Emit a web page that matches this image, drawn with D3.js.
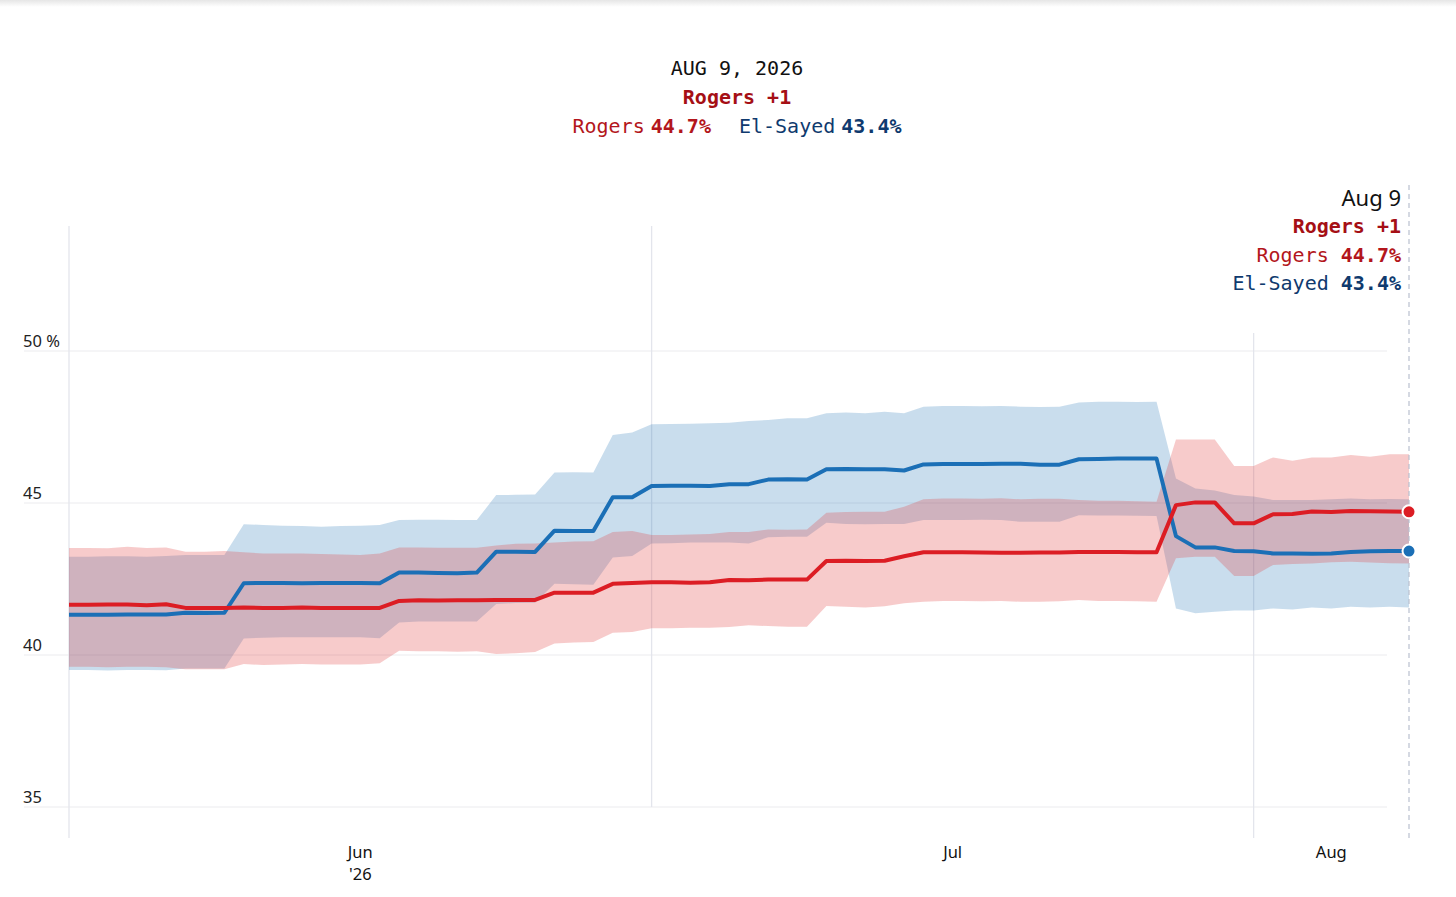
<!DOCTYPE html>
<html>
<head>
<meta charset="utf-8">
<script src="https://cdn.jsdelivr.net/npm/d3@7"></script>
<style>
  body { margin: 0; background: #fff; }
  svg { display: block; }
  .mono { font-family: "DejaVu Sans Mono", "Liberation Mono", monospace; }
  .sans { font-family: "Noto Sans", "Open Sans", sans-serif; }
</style>
</head>
<body>
<div id="chart"></div>
<script>
// daily values, Jun 1 .. Aug 9 2026
var startDate = new Date(2026, 5, 1);
var endDate = new Date(2026, 7, 9);

var rogers = [41.65,41.65,41.66,41.66,41.64,41.67,41.55,41.55,41.55,41.56,
  41.55,41.55,41.56,41.55,41.55,41.55,41.55,41.78,41.80,41.79,
  41.80,41.80,41.81,41.81,41.81,42.05,42.05,42.05,42.34,42.37,
  42.39,42.39,42.38,42.39,42.47,42.46,42.48,42.48,42.48,43.09,
  43.10,43.09,43.10,43.25,43.38,43.38,43.38,43.37,43.36,43.36,
  43.37,43.37,43.39,43.39,43.39,43.38,43.38,44.93,45.02,45.02,
  44.33,44.33,44.63,44.64,44.72,44.70,44.74,44.73,44.72,44.71];
var rogersHi = [43.52,43.52,43.51,43.56,43.52,43.54,43.40,43.40,43.42,43.38,
  43.34,43.34,43.34,43.32,43.31,43.29,43.34,43.54,43.54,43.53,
  43.53,43.53,43.60,43.66,43.67,43.70,43.73,43.74,44.05,44.08,
  43.95,43.95,43.96,43.98,44.05,44.05,44.13,44.12,44.13,44.68,
  44.70,44.71,44.71,44.88,45.12,45.15,45.15,45.14,45.16,45.12,
  45.14,45.14,45.10,45.07,45.07,45.06,45.04,47.09,47.09,47.09,
  46.22,46.22,46.50,46.39,46.50,46.50,46.58,46.52,46.60,46.60];
var rogersLo = [39.61,39.61,39.60,39.61,39.61,39.60,39.53,39.53,39.53,39.70,
  39.67,39.69,39.70,39.69,39.69,39.69,39.73,40.14,40.12,40.12,
  40.11,40.12,40.03,40.06,40.10,40.38,40.41,40.43,40.73,40.76,
  40.88,40.88,40.90,40.90,40.92,40.98,40.95,40.93,40.93,41.61,
  41.59,41.56,41.60,41.70,41.75,41.78,41.78,41.77,41.78,41.75,
  41.75,41.77,41.81,41.78,41.78,41.77,41.75,43.18,43.23,43.23,
  42.60,42.60,42.96,42.99,43.01,43.05,43.07,43.04,43.02,43.01];

var elSayed = [41.32,41.32,41.32,41.33,41.33,41.33,41.39,41.38,41.39,42.36,
  42.37,42.37,42.36,42.37,42.37,42.37,42.36,42.71,42.71,42.70,
  42.69,42.71,43.40,43.40,43.39,44.09,44.08,44.08,45.19,45.19,
  45.56,45.57,45.57,45.56,45.62,45.62,45.77,45.78,45.77,46.11,
  46.12,46.11,46.11,46.07,46.27,46.28,46.28,46.28,46.29,46.29,
  46.26,46.26,46.44,46.45,46.46,46.46,46.46,43.91,43.54,43.54,
  43.42,43.41,43.34,43.34,43.33,43.34,43.39,43.41,43.42,43.42];
var elSayedHi = [43.23,43.23,43.25,43.25,43.23,43.26,43.29,43.29,43.29,44.30,
  44.28,44.25,44.24,44.22,44.24,44.25,44.28,44.44,44.45,44.45,
  44.44,44.44,45.26,45.27,45.28,46.00,46.01,46.00,47.24,47.32,
  47.59,47.60,47.61,47.62,47.64,47.70,47.73,47.79,47.79,47.95,
  47.98,47.95,48.00,47.95,48.17,48.19,48.19,48.18,48.19,48.17,
  48.16,48.17,48.31,48.33,48.33,48.32,48.33,45.81,45.48,45.41,
  45.26,45.21,45.10,45.10,45.10,45.12,45.15,45.12,45.13,45.12];
var elSayedLo = [39.51,39.51,39.49,39.51,39.51,39.50,39.56,39.56,39.56,40.54,
  40.57,40.58,40.58,40.58,40.58,40.58,40.55,41.07,41.10,41.10,
  41.10,41.10,41.68,41.71,41.72,42.34,42.33,42.31,43.21,43.26,
  43.67,43.68,43.70,43.70,43.70,43.67,43.87,43.89,43.89,44.35,
  44.31,44.30,44.31,44.31,44.44,44.44,44.44,44.45,44.44,44.38,
  44.38,44.38,44.60,44.59,44.59,44.58,44.57,41.53,41.37,41.42,
  41.46,41.46,41.53,41.50,41.56,41.53,41.59,41.56,41.59,41.56];

var yTicks = [35, 40, 45, 50];
var monthStarts = [new Date(2026, 5, 1), new Date(2026, 6, 1), new Date(2026, 7, 1)];

// **************************************************
var width = 1456, height = 897;
var plotTop = 226, plotBottom = 838;

var days = rogers.map(function(v, i) { return d3.timeDay.offset(startDate, i); });
var rows = days.map(function(d, i) {
  return { date: d, r: rogers[i], rHi: rogersHi[i], rLo: rogersLo[i],
           e: elSayed[i], eHi: elSayedHi[i], eLo: elSayedLo[i] };
});

var x = d3.scaleTime().domain([startDate, endDate]).range([69, 1409]);
var y = d3.scaleLinear().domain([35, 50]).range([807, 351]);

var svg = d3.select("#chart").append("svg")
  .attr("width", width)
  .attr("height", height);

// faint shadow along the top edge
var grad = svg.append("defs").append("linearGradient")
  .attr("id", "topShade").attr("x1", 0).attr("x2", 0).attr("y1", 0).attr("y2", 1);
grad.append("stop").attr("offset", "0%").attr("stop-color", "#e6e6e6");
grad.append("stop").attr("offset", "100%").attr("stop-color", "#fff");
svg.append("rect").attr("width", width).attr("height", 7).attr("fill", "url(#topShade)");

// horizontal grid + labels
svg.selectAll(".grid").data(yTicks).enter().append("line")
  .attr("x1", 24).attr("x2", 1387)
  .attr("y1", function(d) { return y(d); })
  .attr("y2", function(d) { return y(d); })
  .attr("stroke", "#ebebee").attr("stroke-width", 1);

svg.selectAll(".ylab").data(yTicks).enter().append("text")
  .attr("class", "sans")
  .attr("x", 23)
  .attr("y", function(d) { return y(d) - 4; })
  .attr("font-size", 16.5)
  .attr("fill", "#222")
  .text(function(d) { return d === 50 ? "50 %" : d; });

// month boundaries
svg.selectAll(".month").data(monthStarts).enter().append("line")
  .attr("x1", function(d) { return x(d); })
  .attr("x2", function(d) { return x(d); })
  .attr("y1", plotTop)
  .attr("y2", function(d, i) { return i === 1 ? y(35) : plotBottom; })
  .attr("stroke", "#e3e5ec").attr("stroke-width", 1.3);

// month labels centred in each month's visible span
monthStarts.forEach(function(m, i) {
  var next = i < monthStarts.length - 1 ? monthStarts[i + 1] : endDate;
  var cx = (x(m) + x(next)) / 2;
  svg.append("text").attr("class", "sans")
    .attr("x", cx).attr("y", 858)
    .attr("text-anchor", "middle")
    .attr("font-size", 16.5).attr("fill", "#111")
    .text(d3.timeFormat("%b")(m));
  if (i === 0) {
    svg.append("text").attr("class", "sans")
      .attr("x", cx).attr("y", 880)
      .attr("text-anchor", "middle")
      .attr("font-size", 16.5).attr("fill", "#111")
      .text("'" + d3.timeFormat("%y")(m));
  }
});

// bands
var blueBand = d3.area()
  .x(function(d) { return x(d.date); })
  .y0(function(d) { return y(d.eLo); })
  .y1(function(d) { return y(d.eHi); });
var redBand = d3.area()
  .x(function(d) { return x(d.date); })
  .y0(function(d) { return y(d.rLo); })
  .y1(function(d) { return y(d.rHi); });

svg.append("path").datum(rows).attr("d", blueBand)
  .attr("fill", "#1f6fb4").attr("fill-opacity", 0.24);
svg.append("path").datum(rows).attr("d", redBand)
  .attr("fill", "#e13e3e").attr("fill-opacity", 0.27);

// white backing behind the top-right readout
var last = rows[rows.length - 1];
svg.append("rect").attr("x", 1225).attr("y", 180).attr("width", 180).attr("height", 153)
  .attr("fill", "#fff");

// cursor line at last day
svg.append("line")
  .attr("x1", x(last.date)).attr("x2", x(last.date))
  .attr("y1", 185).attr("y2", plotBottom)
  .attr("stroke", "#b9c0cf").attr("stroke-width", 1.2)
  .attr("stroke-dasharray", "5,4");

// lines
var blueLine = d3.line()
  .x(function(d) { return x(d.date); })
  .y(function(d) { return y(d.e); });
var redLine = d3.line()
  .x(function(d) { return x(d.date); })
  .y(function(d) { return y(d.r); });

svg.append("path").datum(rows).attr("d", blueLine)
  .attr("fill", "none").attr("stroke", "#1b6fb6").attr("stroke-width", 4)
  .attr("stroke-linejoin", "round");
svg.append("path").datum(rows).attr("d", redLine)
  .attr("fill", "none").attr("stroke", "#dc1d24").attr("stroke-width", 4)
  .attr("stroke-linejoin", "round");

svg.append("circle").attr("cx", x(last.date)).attr("cy", y(last.r)).attr("r", 6.5)
  .attr("fill", "#dc1d24").attr("stroke", "#fff").attr("stroke-width", 2);
svg.append("circle").attr("cx", x(last.date)).attr("cy", y(last.e)).attr("r", 6.5)
  .attr("fill", "#1b6fb6").attr("stroke", "#fff").attr("stroke-width", 2);

// text blocks
var darkRed = "#a50f15", red = "#b3161c", navy = "#0f3a6e";
var fmtPct = function(v) { return v.toFixed(1) + "%"; };
var lead = Math.round(last.r - last.e);
var leadText = (lead >= 0 ? "Rogers +" + lead : "El-Sayed +" + (-lead));

// centred header
var cx0 = 737;
svg.append("text").attr("class", "mono").attr("x", cx0).attr("y", 75)
  .attr("text-anchor", "middle").attr("font-size", 20).attr("fill", "#111")
  .text(d3.timeFormat("%b %-d, %Y")(last.date).toUpperCase());
svg.append("text").attr("class", "mono").attr("x", cx0).attr("y", 104)
  .attr("text-anchor", "middle").attr("font-size", 20).attr("font-weight", "bold")
  .attr("fill", darkRed).text(leadText);
var h3 = svg.append("text").attr("class", "mono").attr("x", cx0).attr("y", 133)
  .attr("text-anchor", "middle").attr("font-size", 20);
h3.append("tspan").attr("fill", red).text("Rogers");
h3.append("tspan").attr("dx", 6).attr("fill", red).attr("font-weight", "bold").text(fmtPct(last.r));
h3.append("tspan").attr("dx", 28).attr("fill", navy).text("El-Sayed");
h3.append("tspan").attr("dx", 6).attr("fill", navy).attr("font-weight", "bold").text(fmtPct(last.e));

// top-right readout
var rx = 1401;
svg.append("text").attr("class", "sans").attr("x", rx).attr("y", 206)
  .attr("text-anchor", "end").attr("font-size", 22).attr("fill", "#111")
  .text(d3.timeFormat("%b %-d")(last.date));
svg.append("text").attr("class", "mono").attr("x", rx).attr("y", 233)
  .attr("text-anchor", "end").attr("font-size", 20).attr("font-weight", "bold")
  .attr("fill", darkRed).text(leadText);
var t3 = svg.append("text").attr("class", "mono").attr("x", rx).attr("y", 262)
  .attr("text-anchor", "end").attr("font-size", 20);
t3.append("tspan").attr("fill", red).text("Rogers ");
t3.append("tspan").attr("fill", red).attr("font-weight", "bold").text(fmtPct(last.r));
var t4 = svg.append("text").attr("class", "mono").attr("x", rx).attr("y", 290)
  .attr("text-anchor", "end").attr("font-size", 20);
t4.append("tspan").attr("fill", navy).text("El-Sayed ");
t4.append("tspan").attr("fill", navy).attr("font-weight", "bold").text(fmtPct(last.e));
</script>
</body>
</html>
